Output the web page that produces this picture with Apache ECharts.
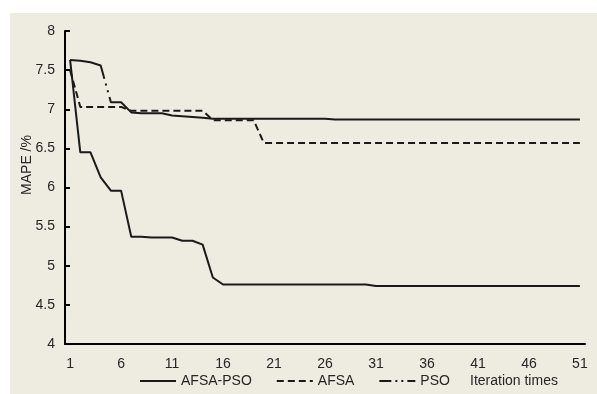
<!DOCTYPE html>
<html>
<head>
<meta charset="utf-8">
<script src="https://cdn.jsdelivr.net/npm/echarts@6/dist/echarts.min.js"></script>
<style>
html,body{margin:0;padding:0;background:#ffffff;}
#c{width:597px;height:394px;}
</style>
</head>
<body>
<div id="c"></div>
<script>
var iterations = [];
for (var k = 1; k <= 51; k++) iterations.push(String(k));

var afsaPso = [7.63, 6.45, 6.45, 6.13, 5.96, 5.96, 5.37, 5.37, 5.36, 5.36,
  5.36, 5.32, 5.32, 5.27, 4.85, 4.76, 4.76, 4.76, 4.76, 4.76,
  4.76, 4.76, 4.76, 4.76, 4.76, 4.76, 4.76, 4.76, 4.76, 4.76,
  4.74, 4.74, 4.74, 4.74, 4.74, 4.74, 4.74, 4.74, 4.74, 4.74,
  4.74, 4.74, 4.74, 4.74, 4.74, 4.74, 4.74, 4.74, 4.74, 4.74, 4.74];

var afsa = [7.50, 7.03, 7.03, 7.03, 7.03, 7.03, 6.98, 6.98, 6.98, 6.98,
  6.98, 6.98, 6.98, 6.98, 6.86, 6.86, 6.86, 6.86, 6.86, 6.57,
  6.57, 6.57, 6.57, 6.57, 6.57, 6.57, 6.57, 6.57, 6.57, 6.57,
  6.57, 6.57, 6.57, 6.57, 6.57, 6.57, 6.57, 6.57, 6.57, 6.57,
  6.57, 6.57, 6.57, 6.57, 6.57, 6.57, 6.57, 6.57, 6.57, 6.57, 6.57];

var pso = [7.63, 7.62, 7.60, 7.56, 7.09, 7.09, 6.96, 6.95, 6.95, 6.95,
  6.92, 6.91, 6.90, 6.89, 6.88, 6.88, 6.88, 6.88, 6.88, 6.88,
  6.88, 6.88, 6.88, 6.88, 6.88, 6.88, 6.87, 6.87, 6.87, 6.87,
  6.87, 6.87, 6.87, 6.87, 6.87, 6.87, 6.87, 6.87, 6.87, 6.87,
  6.87, 6.87, 6.87, 6.87, 6.87, 6.87, 6.87, 6.87, 6.87, 6.87, 6.87];

var seriesNames = ['AFSA-PSO', 'AFSA', 'PSO'];
var yName = 'MAPE /%';
var xName = 'Iteration times';

var FONT = '"Liberation Sans", Arial, sans-serif';
var INK = '#1a1a1a';
var TXT = '#262626';

var chart = echarts.init(document.getElementById('c'), null, {renderer: 'canvas'});
chart.setOption({
  backgroundColor: '#ffffff',
  animation: false,
  graphic: [
    {type: 'rect', z: -10, shape: {x: 10, y: 13, width: 587, height: 381}, style: {fill: '#eeebe0'}},
    {type: 'text', z: 10, x: 27, y: 165, rotation: Math.PI / 2,
      style: {text: yName, font: '14px ' + FONT, fill: TXT, align: 'center', verticalAlign: 'middle'}},
    {type: 'text', z: 10, x: 470, y: 381,
      style: {text: xName, font: '14px ' + FONT, fill: TXT, align: 'left', verticalAlign: 'middle'}}
  ],
  grid: {left: 65, right: 12, top: 31, bottom: 50, containLabel: false},
  legend: {
    left: 139, top: 374, padding: 0, itemWidth: 36, itemHeight: 14, itemGap: 24,
    itemStyle: {opacity: 0},
    textStyle: {fontFamily: FONT, fontSize: 14, color: TXT},
    data: [
      {name: seriesNames[0]},
      {name: seriesNames[1]},
      {name: seriesNames[2], lineStyle: {type: [12, 4, 2, 4, 2, 4], dashOffset: 0}}
    ]
  },
  xAxis: {
    type: 'category',
    data: iterations,
    boundaryGap: true,
    axisLine: {lineStyle: {color: '#000', width: 2}},
    axisTick: {inside: true, length: 6, interval: 4, lineStyle: {color: '#000', width: 2}},
    axisLabel: {interval: 4, margin: 13, fontFamily: FONT, fontSize: 14, color: TXT},
    splitLine: {show: false}
  },
  yAxis: {
    type: 'value',
    min: 4, max: 8, interval: 0.5,
    axisLine: {show: true, lineStyle: {color: '#000', width: 2}},
    axisTick: {show: true, inside: true, length: 5, lineStyle: {color: '#000', width: 2}},
    axisLabel: {margin: 10, fontFamily: FONT, fontSize: 14, color: TXT},
    splitLine: {show: false}
  },
  series: [
    {name: seriesNames[0], type: 'line', data: afsaPso, symbol: 'none',
      lineStyle: {color: INK, width: 2, type: 'solid'}, itemStyle: {color: INK}},
    {name: seriesNames[1], type: 'line', data: afsa, symbol: 'none',
      lineStyle: {color: INK, width: 2, type: [7, 4]}, itemStyle: {color: INK}},
    {name: seriesNames[2], type: 'line', data: pso, symbol: 'none',
      lineStyle: {color: INK, width: 2, type: [800, 5, 2, 5, 2, 5], dashOffset: 755}, itemStyle: {color: INK}}
  ]
});
</script>
</body>
</html>
